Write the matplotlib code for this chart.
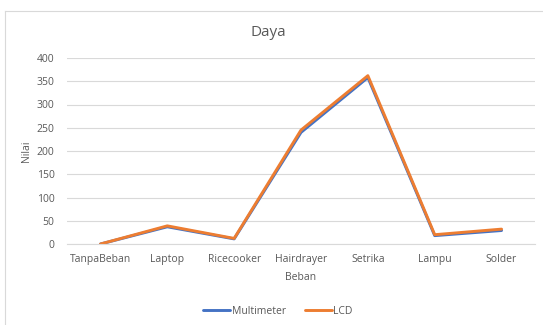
import matplotlib
matplotlib.use("Agg")
import matplotlib.pyplot as plt
from matplotlib.lines import Line2D

plt.rcParams['font.family'] = ['Open Sans', 'DejaVu Sans']

categories = ["TanpaBeban", "Laptop", "Ricecooker", "Hairdrayer", "Setrika", "Lampu", "Solder"]
multimeter = [0, 37, 11, 240, 358, 18, 29]
lcd = [0, 39, 12, 245, 362, 20, 32]
yticks = [0, 50, 100, 150, 200, 250, 300, 350, 400]

W, H = 543, 325
fig = plt.figure(figsize=(W / 100, H / 100), dpi=100)
fig.patch.set_facecolor("white")

# outer chart border (top and left edges visible)
fig.add_artist(Line2D([5 / W, 5 / W], [0, 1 - 11 / H], color="#d9d9d9", lw=0.8))
fig.add_artist(Line2D([5 / W, 1], [1 - 11 / H, 1 - 11 / H], color="#d9d9d9", lw=0.8))

left, right = 67, 535
top, bottom = 58, 244
ax = fig.add_axes([left / W, 1 - bottom / H, (right - left) / W, (bottom - top) / H])

x = list(range(len(categories)))
ax.plot(x, multimeter, color="#4472C4", lw=2.1, solid_capstyle="round", label="Multimeter")
ax.plot(x, lcd, color="#ED7D31", lw=2.1, solid_capstyle="round", label="LCD")

ax.set_xlim(-0.5, len(categories) - 0.5)
ax.set_ylim(0, 400)
ax.set_yticks(yticks)
ax.set_xticks(x)
ax.set_xticklabels(categories)
ax.grid(axis="y", color="#d9d9d9", lw=0.8)
ax.set_axisbelow(True)
for s in ["top", "right", "left"]:
    ax.spines[s].set_visible(False)
ax.spines["bottom"].set_color("#d9d9d9")
ax.spines["bottom"].set_linewidth(0.8)
ax.tick_params(axis="both", length=0, labelsize=7.5, colors="#595959")
ax.tick_params(axis="y", pad=9)
ax.tick_params(axis="x", pad=7)

fig.text(268 / W, 1 - 33 / H, "Daya", ha="center", va="center", fontsize=11, color="#595959")
ax.set_xlabel("Beban", fontsize=7.5, color="#595959", labelpad=5)
ax.set_ylabel("Nilai", fontsize=7.5, color="#595959", labelpad=3)

fig.legend(loc="center", bbox_to_anchor=(278 / W, 1 - 311 / H), ncol=2, frameon=False,
           fontsize=7.5, labelcolor="#595959", handlelength=2.6, handletextpad=0.15,
           columnspacing=1.8)

fig.savefig("out.png", dpi=100, facecolor="white")
